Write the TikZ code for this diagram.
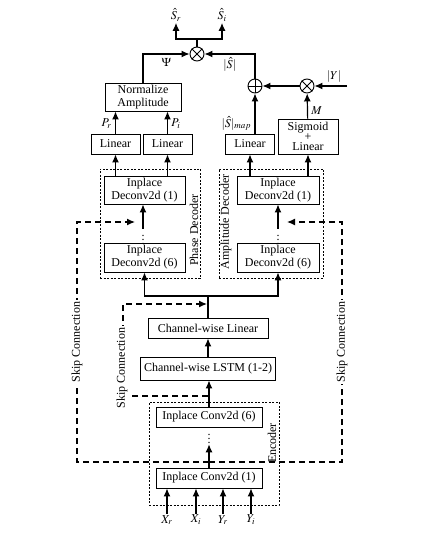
\documentclass[tikz,border=0pt]{standalone}
\usepackage{amsmath}
\usepackage{mathptmx}
\usepackage[no-math]{fontspec}
\setmainfont{Liberation Serif}
\usetikzlibrary{arrows.meta, positioning}

\begin{document}
\begin{tikzpicture}[
            x = 1pt, y = -1pt, % pixel units, y grows downwards
            > = {Latex[length=8pt, width=7pt]}, % arrow head style
            line width = 1.2pt,
            font = \fontsize{12}{13}\selectfont
        ]

        \tikzstyle{block}=[
            draw = black,
            line width = 0.9pt,
            fill = white,
            align = center,
            inner sep = 1pt
        ]
        \tikzstyle{group}=[draw = black, line width = 0.7pt, dash pattern = on 2pt off 1.5pt]
        \tikzstyle{skip}=[line width = 1.2pt, dash pattern = on 6pt off 4pt]
        \tikzstyle{op}=[draw = black, line width = 0.9pt, circle, minimum size = 14pt, inner sep = 0pt]
        \tikzstyle{vlabel}=[rotate = 90, inner sep = 1pt]
        \tikzstyle{skiptext}=[rotate = 90, fill = white, inner sep = 2pt]

        \useasboundingbox (0,0) rectangle (425,534);

        % encoder
        \node[group, minimum width=130, minimum height=103] (enc) at (214,453.5) {};
        \node[vlabel] (enctext) at (272,443) {Encoder};
        \node[block, minimum width=106, minimum height=20] (conv1) at (209,478) {Inplace Conv2d (1)};
        \node[inner sep=0pt] (dotse) at (209,436) {$\vdots$};
        \node[block, minimum width=106, minimum height=20] (conv6) at (209,417) {Inplace Conv2d (6)};

        \node[inner sep=1pt] (xr) at (167,520) {$X_r$};
        \node[inner sep=1pt] (xi) at (196,520) {$X_i$};
        \node[inner sep=1pt] (yr) at (223,520) {$Y_r$};
        \node[inner sep=1pt] (yi) at (251,520) {$Y_i$};
        \foreach \n in {xr, xi, yr, yi}
            \draw[->] (\n.north) -- (\n.north |- conv1.south);

        \draw[->] (conv1) -- (dotse);

        % middle
        \node[block, minimum width=135, minimum height=23] (lstm) at (208,368.5) {Channel-wise LSTM (1-2)};
        \node[block, minimum width=120, minimum height=20] (chlin) at (208,328) {Channel-wise Linear};
        \draw[->] (conv6.north) -- (conv6.north |- lstm.south);
        \draw[->] (lstm) -- (chlin);

        % phase decoder
        \node[group, minimum width=100, minimum height=109] (phase) at (150,223.5) {};
        \node[vlabel] (phasetext) at (194,230) {Phase Decoder};
        \node[block, minimum width=81, minimum height=28] (dp1) at (144.5,190) {Inplace\\Deconv2d (1)};
        \node[inner sep=0pt] (dpdots) at (143,237) {$\vdots$};
        \node[block, minimum width=81, minimum height=29] (dp6) at (144.5,257.5) {Inplace\\Deconv2d (6)};
        \draw[->] (dpdots.north) -- (dpdots.north |- dp1.south);

        % amplitude decoder
        \node[group, minimum width=104, minimum height=109] (ampl) at (271,223.5) {};
        \node[vlabel] (ampltext) at (226,222) {Amplitude Decoder};
        \node[block, minimum width=82, minimum height=28] (da1) at (278,190) {Inplace\\Deconv2d (1)};
        \node[inner sep=0pt] (dadots) at (278,237) {$\vdots$};
        \node[block, minimum width=82, minimum height=29] (da6) at (278,257.5) {Inplace\\Deconv2d (6)};
        \draw[->] (dadots.north) -- (dadots.north |- da1.south);

        \coordinate (jn) at (208,296);
        \draw (chlin.north) -- (jn);
        \draw[->] (jn) -| (dp6.south);
        \draw[->] (jn) -| (da6.south);

        % skip connections
        \coordinate (ske) at (209,462);
        \coordinate (skl) at (77,462);
        \coordinate (skr) at (342,462);
        \coordinate (skpin) at (135,222);
        \coordinate (skain) at (287,222);
        \draw[skip, ->] (ske) -- (skl) |- node[pos=0.25, skiptext] {Skip Connection} (skpin);
        \draw[skip, ->] (ske) -- (skr) |- node[pos=0.25, skiptext] {Skip Connection} (skain);
        \fill (ske) circle (1.6);

        \coordinate (skm) at (208,396);
        \coordinate (skml) at (123,396);
        \coordinate (skmin) at (207,304);
        \draw[skip, ->] (skm) -- (skml) |- (skmin);
        \node[skiptext] (skmtext) at (122,368) {Skip Connection};

        % output heads
        \node[block, minimum width=49, minimum height=20] (linpr) at (115.5,144) {Linear};
        \node[block, minimum width=49, minimum height=20] (linpi) at (167.5,144) {Linear};
        \node[block, minimum width=76, minimum height=28] (norm) at (143,97) {Normalize\\Amplitude};
        \node[block, minimum width=49, minimum height=20] (lina) at (250,144) {Linear};
        \node[block, minimum width=60, minimum height=35] (sig) at (308,136.5) {Sigmoid\\[-3pt]+\\[-3pt]Linear};

        \draw[->] (dp1.north -| linpr) -- (linpr);
        \draw[->] (dp1.north -| linpi) -- (linpi);
        \draw[->] (da1.north -| lina) -- (lina);
        \draw[->] (da1.north -| sig) -- (sig);

        \draw[->] (linpr) -- (linpr |- norm.south) node[pos=0.45, left] {$P_r$};
        \draw[->] (linpi) -- (linpi |- norm.south) node[pos=0.45, right] {$P_i$};

        \node[op] (otm) at (197,54) {};
        \node[op] (opl) at (255,86) {};
        \node[op] (otm2) at (307,86) {};
        \draw[line width=0.9pt] (otm.north east) -- (otm.south west) (otm.north west) -- (otm.south east);
        \draw[line width=0.9pt] (otm2.north east) -- (otm2.south west) (otm2.north west) -- (otm2.south east);
        \draw[line width=0.9pt] (opl.north) -- (opl.south) (opl.west) -- (opl.east);

        \draw[->] (lina.north -| opl) -- (opl) node[pos=0.25, left] {$|\hat{S}|_{map}$};
        \draw[->] (sig) -- (otm2) node[pos=0.3, right] {$M$};
        \coordinate (yin) at (347,86);
        \draw[->] (yin) -- (otm2) node[pos=0.4, above] {$|Y|$};
        \draw[->] (otm2) -- (opl);
        \draw[->] (opl) |- (otm) node[pos=0.75, below] {$|\hat{S}|$};
        \draw[->] (norm) |- (otm) node[pos=0.75, below] {$\Psi$};

        \node[inner sep=1pt] (sr) at (176,15) {$\hat{S}_r$};
        \node[inner sep=1pt] (si) at (222,15) {$\hat{S}_i$};
        \coordinate (spl) at (197,39);
        \draw (otm) -- (spl);
        \draw[->] (spl) -| (sr);
        \draw[->] (spl) -| (si);

  \end{tikzpicture}
\end{document}
